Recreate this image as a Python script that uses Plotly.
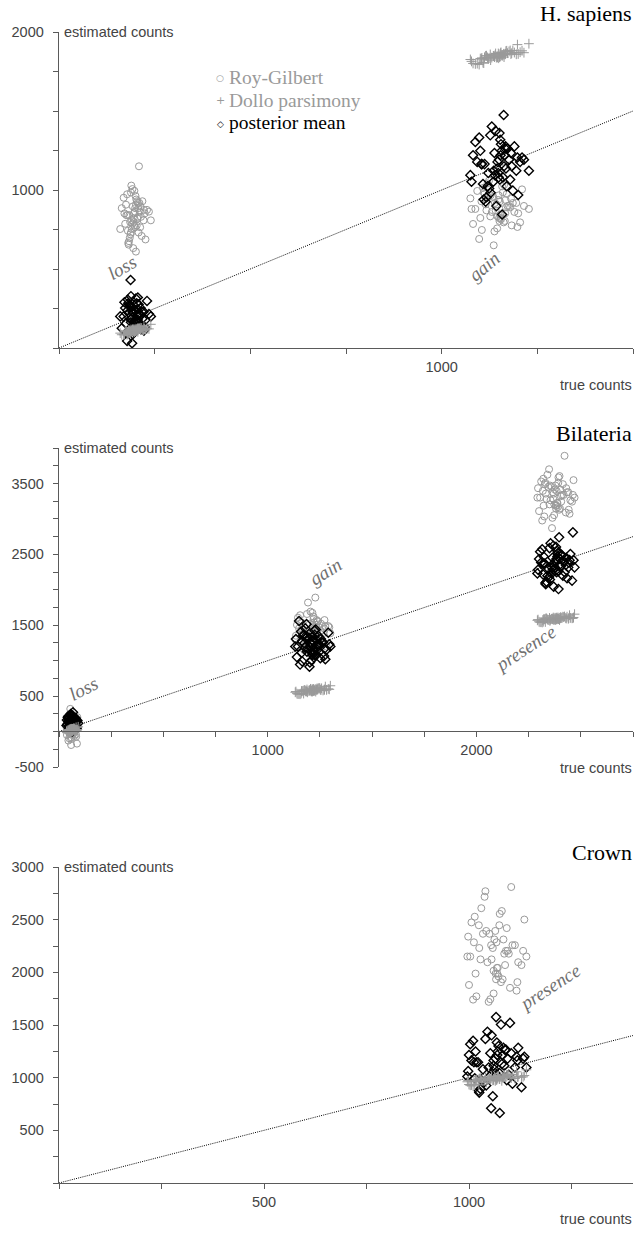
import plotly.graph_objects as go

W, H = 636, 1233

# ---------------- data ----------------
# H. sapiens : loss
hs_loss_true = [198, 185, 210, 176, 203, 192, 221, 188, 207, 169,
                195, 214, 182, 201, 230, 190, 178, 205, 196, 187,
                218, 173, 209, 199, 184, 226, 193, 211, 180, 202,
                240, 164, 197, 189, 216, 206, 175, 194, 222, 186,
                200, 212, 171, 191, 204, 183, 235, 197, 208, 179,
                195, 213, 160, 201, 188, 224, 192, 206, 181, 199]
hs_loss_rg = [863, 698, 918, 841, 775, 1006, 808, 731, 885, 951,
              797, 830, 654, 907, 874, 753, 973, 819, 852, 720,
              929, 786, 1150, 764, 841, 687, 896, 863, 742, 940,
              808, 885, 775, 1028, 709, 830, 907, 632, 874, 797,
              962, 764, 852, 808, 929, 676, 863, 995, 731, 841,
              819, 896, 753, 610, 984, 852, 786, 918, 665, 885]
hs_loss_dollo = [116, 95, 120, 106, 109, 118, 112, 108, 117, 84,
                 118, 117, 112, 114, 122, 111, 84, 124, 104, 103,
                 114, 107, 122, 108, 109, 115, 108, 123, 91, 120,
                 150, 84, 101, 106, 124, 103, 103, 106, 137, 104,
                 107, 127, 85, 111, 114, 113, 121, 107, 124, 102,
                 109, 113, 94, 109, 117, 118, 111, 117, 88, 119]
hs_loss_post = [155, 268, 215, 95, 283, 193, 230, 328, 140, 200,
                245, 118, 223, 170, 298, 260, 45, 208, 163, 430,
                185, 253, 133, 238, 275, 178, 88, 215, 305, 148,
                200, 125, 268, 185, 230, 320, 155, 223, 110, 260,
                170, 208, 290, 30, 245, 193, 215, 140, 275, 238,
                103, 253, 200, 313, 163, 133, 230, 178, 283, 155]
# H. sapiens : gain
hs_gain_true = [1150, 1128, 1172, 1105, 1160, 1141, 1195, 1120, 1165, 1088,
                1148, 1183, 1115, 1157, 1210, 1135, 1098, 1168, 1146, 1124,
                1190, 1075, 1162, 1152, 1112, 1200, 1138, 1176, 1108, 1155,
                1228, 1082, 1149, 1131, 1186, 1163, 1101, 1143, 1198, 1122,
                1153, 1179, 1093, 1136, 1167, 1117, 1215, 1151, 1170, 1104,
                1145, 1181, 1078, 1158, 1127, 1205, 1139, 1166, 1110, 1154]
hs_gain_rg = [823, 966, 899, 747, 985, 871, 918, 1042, 804, 880,
              937, 776, 909, 842, 1004, 956, 690, 890, 833, 1060,
              861, 947, 795, 928, 975, 852, 738, 899, 1013, 814,
              880, 785, 966, 861, 918, 1032, 823, 909, 766, 956,
              842, 890, 994, 650, 937, 871, 899, 804, 975, 928,
              757, 947, 880, 1023, 833, 795, 918, 852, 985, 823]
hs_gain_dollo = [1859, 1822, 1866, 1836, 1853, 1864, 1859, 1839, 1858, 1798,
                 1864, 1866, 1849, 1854, 1881, 1849, 1794, 1879, 1839, 1835,
                 1870, 1826, 1862, 1844, 1840, 1861, 1841, 1877, 1806, 1871,
                 1926, 1801, 1834, 1838, 1883, 1841, 1832, 1838, 1920, 1830,
                 1846, 1883, 1800, 1847, 1861, 1850, 1869, 1842, 1881, 1828,
                 1847, 1860, 1814, 1849, 1858, 1872, 1851, 1863, 1803, 1866]
hs_gain_post = [1192, 982, 1262, 1164, 1080, 1374, 1122, 1024, 1220, 1304,
                1108, 1150, 926, 1248, 1206, 1052, 1332, 1136, 1178, 1010,
                1276, 1094, 1475, 1066, 1164, 968, 1234, 1192, 1038, 1290,
                1122, 1220, 1080, 1402, 996, 1150, 1248, 898, 1206, 1108,
                1318, 1066, 1178, 1122, 1276, 954, 1192, 1360, 1024, 1164,
                1136, 1234, 1052, 845, 1346, 1178, 1094, 1262, 940, 1220]

# Bilateria : loss
bi_loss_true = [62, 55, 70, 48, 65, 59, 78, 52, 68, 42,
                61, 74, 50, 64, 88, 57, 45, 69, 60, 54,
                80, 40, 67, 63, 51, 84, 58, 72, 47, 65,
                92, 38, 61, 56, 76, 66, 46, 60, 82, 53,
                63, 73, 44, 58, 67, 49, 86, 62, 70, 46,
                60, 75, 36, 64, 55, 81, 59, 68, 50, 63]
bi_loss_rg = [-6, 159, 82, -94, 181, 49, 104, 247, -28, 60,
              126, -61, 93, 16, 203, 148, -127, 71, 5, 320,
              38, 137, -39, 115, 170, 27, -105, 82, 214, -17,
              60, -50, 159, 38, 104, 236, -6, 93, -72, 148,
              16, 71, 192, -190, 126, 49, -170, -28, 170, 115,
              -83, 137, 60, 225, 5, -39, 104, 27, 181, -6]
bi_loss_dollo = [29, 0, 28, 19, 17, 39, 14, 17, 26, -16,
                 35, 24, 29, 23, 28, 23, -19, 41, 12, 13,
                 23, 16, 32, 15, 23, 19, 17, 36, -10, 38,
                 67, -15, 6, 15, 40, 4, 17, 12, 59, 11,
                 15, 44, -14, 24, 26, 27, 22, 14, 42, 11,
                 19, 18, 4, 16, 35, 24, 25, 26, -13, 36]
bi_loss_post = [150, 52, 182, 137, 98, 234, 117, 72, 163, 202,
                111, 130, 26, 176, 156, 85, 215, 124, 143, 65,
                189, 104, 273, 91, 137, 46, 169, 150, 78, 195,
                117, 163, 98, 247, 59, 130, 176, 13, 156, 111,
                208, 91, 143, 117, 189, 39, 150, 228, 72, 137,
                124, 169, 85, 0, 221, 143, 104, 182, 33, 163]
# Bilateria : gain
bi_gain_true = [1215, 1190, 1240, 1165, 1225, 1205, 1265, 1180, 1232, 1145,
                1212, 1252, 1175, 1222, 1290, 1198, 1155, 1236, 1210, 1186,
                1272, 1135, 1228, 1218, 1170, 1282, 1202, 1246, 1160, 1220,
                1300, 1140, 1213, 1193, 1258, 1230, 1162, 1208, 1276, 1183,
                1219, 1249, 1150, 1200, 1234, 1178, 1295, 1214, 1242, 1163,
                1209, 1255, 1132, 1224, 1188, 1270, 1204, 1238, 1172, 1217]
bi_gain_rg = [1471, 1216, 1556, 1437, 1335, 1692, 1386, 1267, 1505, 1607,
              1369, 1420, 1148, 1539, 1488, 1301, 1641, 1403, 1454, 1250,
              1573, 1352, 1890, 1318, 1437, 1199, 1522, 1471, 1284, 1590,
              1386, 1505, 1335, 1820, 1233, 1420, 1539, 1114, 1488, 1369,
              1624, 1318, 1454, 1386, 1573, 1182, 1471, 1675, 1267, 1437,
              1403, 1522, 1301, 1080, 1658, 1454, 1352, 1556, 1165, 1505]
bi_gain_dollo = [590, 554, 595, 572, 578, 602, 580, 571, 590, 529,
                 596, 592, 584, 584, 602, 580, 527, 608, 569, 568,
                 592, 564, 597, 573, 575, 588, 575, 605, 538, 601,
                 646, 535, 563, 570, 610, 564, 571, 568, 634, 565,
                 575, 614, 532, 582, 591, 586, 596, 572, 612, 564,
                 577, 585, 554, 579, 593, 590, 584, 593, 536, 598]
bi_gain_post = [1110, 1335, 1230, 990, 1365, 1185, 1260, 1455, 1080, 1200,
                1290, 1035, 1245, 1140, 1395, 1320, 945, 1215, 1125, 1515,
                1170, 1305, 1065, 1275, 1350, 1155, 975, 1230, 1410, 1095,
                1200, 1050, 1335, 1170, 1260, 1440, 1110, 1245, 1020, 1320,
                1140, 1215, 1560, 915, 1290, 1185, 1230, 1080, 1350, 1275,
                1005, 1305, 1200, 1425, 1125, 1065, 1260, 1155, 1365, 1110]
# Bilateria : presence
bi_pres_true = [2380, 2352, 2410, 2325, 2392, 2368, 2440, 2340, 2400, 2305,
                2376, 2428, 2332, 2388, 2465, 2360, 2315, 2404, 2373, 2348,
                2450, 2295, 2396, 2384, 2328, 2458, 2364, 2418, 2320, 2390,
                2470, 2300, 2378, 2355, 2434, 2398, 2322, 2370, 2446, 2344,
                2386, 2422, 2310, 2362, 2402, 2336, 2462, 2381, 2414, 2318,
                2372, 2430, 2292, 2393, 2350, 2442, 2366, 2406, 2330, 2383]
bi_pres_rg = [3186, 3471, 3338, 3034, 3509, 3281, 3376, 3623, 3148, 3300,
              3414, 3091, 3357, 3224, 3547, 3452, 2977, 3319, 3205, 3700,
              3262, 3433, 3129, 3395, 3490, 3243, 3015, 3338, 3566, 3167,
              3300, 3110, 3471, 3262, 3376, 3604, 3186, 3357, 3072, 3452,
              3224, 3890, 3528, 2870, 3414, 3281, 3338, 3148, 3490, 3395,
              3053, 3433, 3300, 3585, 3205, 3129, 3376, 3243, 3509, 3186]
bi_pres_dollo = [1598, 1562, 1603, 1583, 1588, 1608, 1591, 1581, 1598, 1542,
                 1605, 1602, 1595, 1594, 1609, 1590, 1539, 1616, 1579, 1577,
                 1603, 1579, 1605, 1584, 1585, 1598, 1584, 1614, 1549, 1609,
                 1656, 1549, 1574, 1579, 1620, 1574, 1584, 1577, 1641, 1575,
                 1585, 1623, 1545, 1591, 1599, 1596, 1600, 1583, 1620, 1573,
                 1587, 1595, 1569, 1587, 1602, 1600, 1593, 1601, 1546, 1607]
bi_pres_post = [2401, 2146, 2486, 2367, 2265, 2622, 2316, 2197, 2435, 2537,
                2299, 2350, 2078, 2469, 2418, 2231, 2571, 2333, 2384, 2180,
                2503, 2282, 2740, 2248, 2367, 2129, 2452, 2401, 2214, 2520,
                2316, 2435, 2265, 2656, 2163, 2350, 2469, 2044, 2418, 2299,
                2554, 2248, 2384, 2316, 2503, 2112, 2810, 2605, 2197, 2367,
                2333, 2452, 2231, 2010, 2588, 2384, 2282, 2486, 2095, 2435]

# Crown : presence
cr_pres_true = [1065, 1042, 1090, 1018, 1074, 1055, 1112, 1030, 1082, 1003,
                1062, 1100, 1025, 1070, 1135, 1050, 1010, 1086, 1060, 1038,
                1120, 998, 1078, 1067, 1022, 1128, 1052, 1094, 1014, 1072,
                1140, 1000, 1064, 1045, 1106, 1080, 1016, 1058, 1116, 1034,
                1068, 1097, 1006, 1048, 1084, 1028, 1132, 1066, 1092, 1012,
                1060, 1103, 996, 1075, 1040, 1118, 1054, 1088, 1024, 1069]
cr_pres_rg = [1988, 2393, 2204, 1772, 2447, 2123, 2258, 2609, 1934, 2150,
              2312, 1853, 2231, 2042, 2501, 2366, 1741, 2177, 2015, 2717,
              2096, 2339, 1907, 2285, 3110, 2069, 1745, 2204, 2528, 1961,
              2150, 1880, 2393, 2096, 2258, 2582, 1988, 2231, 1826, 2366,
              2042, 2177, 2474, 1720, 2312, 2123, 2204, 1934, 2420, 2285,
              1799, 2810, 2150, 2555, 2770, 1907, 2258, 2069, 2447, 1988]
cr_pres_dollo = [1000, 955, 1008, 978, 987, 1014, 992, 976, 1001, 928,
                 1009, 1004, 992, 993, 1020, 990, 921, 1025, 976, 972,
                 1009, 973, 1009, 981, 980, 1004, 981, 1020, 935, 1015,
                 1075, 935, 969, 977, 1029, 970, 976, 975, 1056, 969,
                 982, 1032, 930, 988, 1003, 994, 1008, 980, 1029, 963,
                 987, 996, 961, 987, 1004, 1007, 992, 1006, 931, 1013]
cr_pres_post = [1181, 926, 1266, 1147, 1045, 1402, 1096, 977, 1215, 1317,
                1079, 1520, 858, 1249, 1198, 1011, 1351, 1113, 1164, 960,
                1283, 1062, 1504, 1028, 1147, 909, 1232, 1181, 994, 1300,
                1096, 1215, 1045, 1436, 943, 1130, 1249, 824, 1198, 1079,
                1334, 1028, 1164, 1096, 1283, 892, 1181, 1575, 977, 1147,
                1113, 1232, 1011, 665, 1368, 1164, 710, 1262, 875, 1215]

# axis ticks and labels
hs_xticks = [0, 250, 500, 750, 1000, 1250, 1500]
hs_xlabels = ["", "", "", "", "1000", "", ""]
hs_yticks = [0, 250, 500, 750, 1000, 1250, 1500, 1750, 2000]
hs_ylabels = ["", "", "", "", "1000", "", "", "", "2000"]
bi_xticks = [0, 250, 500, 750, 1000, 1250, 1500, 1750, 2000, 2250, 2500, 2750]
bi_xlabels = ["", "", "", "", "1000", "", "", "", "2000", "", "", ""]
bi_yticks = [-500, -250, 0, 250, 500, 750, 1000, 1250, 1500, 1750, 2000,
             2250, 2500, 2750, 3000, 3250, 3500, 3750, 4000]
bi_ylabels = ["-500", "", "", "", "500", "", "", "", "1500", "", "", "",
              "2500", "", "", "", "3500", "", ""]
cr_xticks = [0, 250, 500, 750, 1000, 1250]
cr_xlabels = ["", "", "500", "", "1000", ""]
cr_yticks = [0, 250, 500, 750, 1000, 1250, 1500, 1750, 2000, 2250, 2500, 2750, 3000]
cr_ylabels = ["", "", "500", "", "1000", "", "1500", "", "2000", "", "2500", "", "3000"]

panel_titles = ["H. sapiens", "Bilateria", "Crown"]
legend_names = ["Roy-Gilbert", "Dollo parsimony", "posterior mean"]

# ---------------- styling ----------------
SANS = "Liberation Sans, Arial, sans-serif"
SERIF = "Liberation Serif, Times New Roman, serif"
GRAY = "#9a9a9a"
AXC = "#5a5a5a"
TXT = "#444444"


def px(x):
    return x / W


def py(y):
    return 1 - y / H


fig = go.Figure()

panels = [
    dict(xa="x", ya="y", xmax=1500,
         clusters=[(hs_loss_true, hs_loss_rg, hs_loss_dollo, hs_loss_post),
                   (hs_gain_true, hs_gain_rg, hs_gain_dollo, hs_gain_post)]),
    dict(xa="x2", ya="y2", xmax=2750,
         clusters=[(bi_loss_true, bi_loss_rg, bi_loss_dollo, bi_loss_post),
                   (bi_gain_true, bi_gain_rg, bi_gain_dollo, bi_gain_post),
                   (bi_pres_true, bi_pres_rg, bi_pres_dollo, bi_pres_post)]),
    dict(xa="x3", ya="y3", xmax=1400,
         clusters=[(cr_pres_true, cr_pres_rg, cr_pres_dollo, cr_pres_post)]),
]

for p in panels:
    # y = x reference line
    fig.add_trace(go.Scatter(x=[0, p["xmax"]], y=[0, p["xmax"]], mode="lines",
                             line=dict(color="#000000", width=1, dash="1px,1.2px"),
                             xaxis=p["xa"], yaxis=p["ya"], hoverinfo="skip"))
    for (xt, rg, dl, po) in p["clusters"]:
        fig.add_trace(go.Scatter(x=xt, y=rg, mode="markers", xaxis=p["xa"], yaxis=p["ya"],
                                 marker=dict(symbol="circle-open", size=7, color=GRAY,
                                             line=dict(width=1, color=GRAY)),
                                 name=legend_names[0]))
    for (xt, rg, dl, po) in p["clusters"]:
        fig.add_trace(go.Scatter(x=xt, y=po, mode="markers", xaxis=p["xa"], yaxis=p["ya"],
                                 marker=dict(symbol="diamond-open", size=7, color="black",
                                             line=dict(width=1.4, color="black")),
                                 name=legend_names[2]))
    for (xt, rg, dl, po) in p["clusters"]:
        fig.add_trace(go.Scatter(x=xt, y=dl, mode="markers", xaxis=p["xa"], yaxis=p["ya"],
                                 marker=dict(symbol="cross-thin-open", size=7, color=GRAY,
                                             line=dict(width=1, color=GRAY)),
                                 name=legend_names[1]))


def axis(rng, tv, tt, **kw):
    d = dict(range=rng, tickmode="array", tickvals=tv, ticktext=tt,
             showline=True, linecolor=AXC, linewidth=1.3,
             ticks="outside", ticklen=5, tickwidth=1, tickcolor=AXC,
             showgrid=False, zeroline=False, fixedrange=True, automargin=False,
             tickfont=dict(family=SANS, size=14.5, color=TXT))
    d.update(kw)
    return d


XD = [px(59), px(633)]
fig.update_layout(
    width=W, height=H,
    margin=dict(l=0, r=0, t=0, b=0, autoexpand=False),
    paper_bgcolor="white", plot_bgcolor="white",
    showlegend=False,
    xaxis=axis([0, 1500], hs_xticks, hs_xlabels, domain=XD, anchor="y"),
    yaxis=axis([0, 2000], hs_yticks, hs_ylabels, domain=[py(348), py(32)], anchor="x",
               ticklabelstandoff=6),
    xaxis2=axis([0, 2750], bi_xticks, bi_xlabels, domain=XD, anchor="free", position=py(731)),
    yaxis2=axis([-500, 4000], bi_yticks, bi_ylabels, domain=[py(767), py(448)], anchor="x2",
                ticklabelstandoff=6),
    xaxis3=axis([0, 1400], cr_xticks, cr_xlabels, domain=XD, anchor="y3"),
    yaxis3=axis([0, 3000], cr_yticks, cr_ylabels, domain=[py(1183), py(867)], anchor="x3",
                ticklabelstandoff=6),
)

ann = []


def text(x, y, s, size, color, family, xanchor="center", angle=0, italic=False):
    ann.append(dict(x=px(x), y=py(y), xref="paper", yref="paper", text=s, showarrow=False,
                    xanchor=xanchor, yanchor="middle", textangle=angle,
                    font=dict(size=size, color=color, family=family,
                              style="italic" if italic else "normal")))


# axis names
for yy in (32, 448, 867):
    text(62, yy, "estimated counts", 14.5, TXT, SANS, xanchor="left")
for yy in (385, 768, 1219):
    text(634, yy, "true counts", 14.5, TXT, SANS, xanchor="right")

# panel titles
for yy, t in zip((13, 433, 852), panel_titles):
    text(634, yy, t, 22, "black", SERIF, xanchor="right")

# legend
text(220, 78, "○", 9, GRAY, "DejaVu Sans")
text(220, 101, "+", 11, GRAY, "DejaVu Sans")
text(220, 124, "◇", 9, "black", "DejaVu Sans")
text(227, 77, legend_names[0], 19.5, GRAY, SERIF, xanchor="left")
text(227, 100, legend_names[1], 19.5, GRAY, SERIF, xanchor="left")
text(227, 123, legend_names[2], 19.5, "black", SERIF, xanchor="left")

# cluster labels
LAB = "#707070"
text(122, 267, "loss", 19, LAB, SERIF, angle=-30, italic=True)
text(484, 266, "gain", 19, LAB, SERIF, angle=-40, italic=True)
text(84, 689, "loss", 19, LAB, SERIF, angle=-27, italic=True)
text(326, 572, "gain", 19, LAB, SERIF, angle=-32, italic=True)
text(525, 649, "presence", 19, LAB, SERIF, angle=-33, italic=True)
text(549, 987, "presence", 19, LAB, SERIF, angle=-33, italic=True)

fig.update_layout(annotations=ann)
fig.write_html("out.html",
               config=dict(displayModeBar=False, staticPlot=True),
               post_script="document.body.style.margin='0';"
                           "document.body.style.overflow='hidden';")
